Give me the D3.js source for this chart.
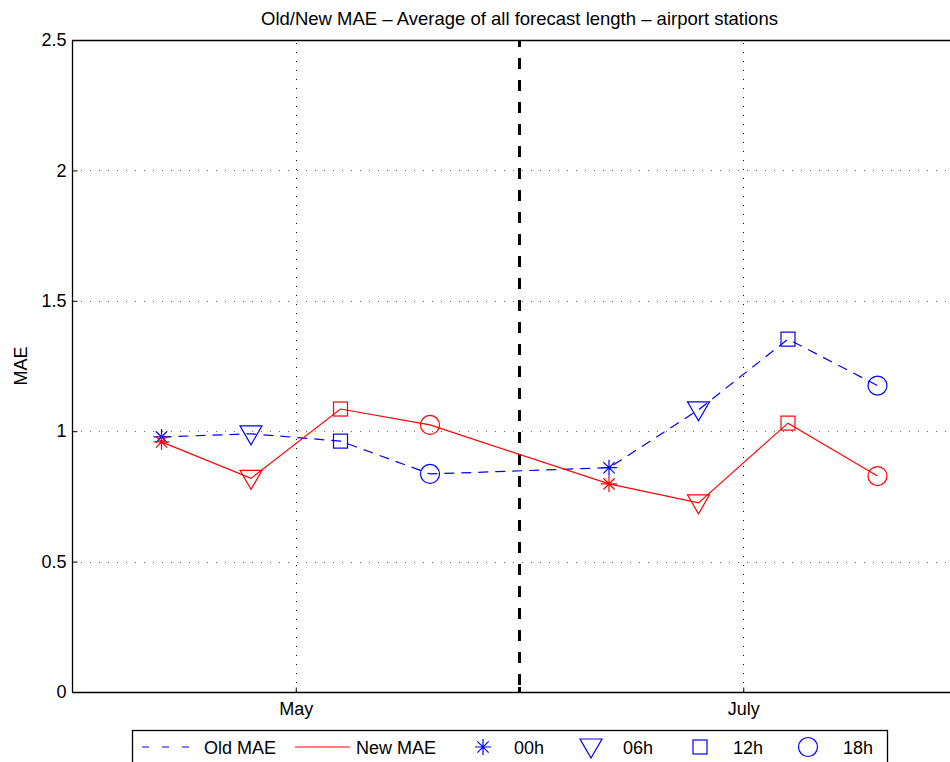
<!DOCTYPE html>
<html>
<head>
<meta charset="utf-8">
<script src="https://cdn.jsdelivr.net/npm/d3@7"></script>
<style>
html,body{margin:0;padding:0;background:#fff;overflow:hidden;}
svg{display:block;font-family:"Liberation Sans",Arial,Helvetica,sans-serif;}
</style>
</head>
<body>
<svg id="chart" width="950" height="762"></svg>
<script>
const xPositions = [1, 2, 3, 4, 6, 7, 8, 9];
const hours = ["00h", "06h", "12h", "18h", "00h", "06h", "12h", "18h"];
const oldMAE = [0.978, 0.99, 0.962, 0.836, 0.86, 1.082, 1.353, 1.175];
const newMAE = [0.959, 0.819, 1.085, 1.024, 0.798, 0.725, 1.031, 0.828];
const monthTicks = [2.5, 7.5];
const monthLabels = ["May", "July"];
const yTicks = [0, 0.5, 1, 1.5, 2, 2.5];
const dividerX = 5;
const legendLabels = ["Old MAE", "New MAE", "00h", "06h", "12h", "18h"];
const titleText = "Old/New MAE \u2013 Average of all forecast length \u2013 airport stations";

const svg = d3.select("#chart");
const L = 72, T = 40, B = 692, R = 967;
const FS = 18;
const x = d3.scaleLinear().domain([0, 10]).range([L, R]);
const y = d3.scaleLinear().domain([0, 2.5]).range([B, T]);

// grid
const g = svg.append("g");
g.selectAll(".hg").data(yTicks.filter(v => v > 0 && v < 2.5)).join("line")
  .attr("x1", L).attr("x2", R).attr("y1", d => Math.round(y(d)) + 0.5).attr("y2", d => Math.round(y(d)) + 0.5)
  .attr("stroke", "#000").attr("stroke-width", 1).attr("stroke-dasharray", "1,8").attr("opacity", 0.6);
g.selectAll(".vg").data(monthTicks).join("line")
  .attr("x1", d => Math.round(x(d)) + 0.5).attr("x2", d => Math.round(x(d)) + 0.5).attr("y1", B).attr("y2", T)
  .attr("stroke", "#000").attr("stroke-width", 1).attr("stroke-dasharray", "1,8");

// divider
svg.append("line").attr("x1", x(dividerX)).attr("x2", x(dividerX)).attr("y1", T).attr("y2", B)
  .attr("stroke", "#000").attr("stroke-width", 3).attr("stroke-dasharray", "11,11").attr("stroke-dashoffset", 4);

// axes
const yAxis = d3.axisLeft(y).tickValues(yTicks).tickFormat(d => d3.format("")(d)).tickSize(-5).tickPadding(6);
const ya = svg.append("g").attr("transform", `translate(${L + 0.5},0)`).call(yAxis);
const xAxis = d3.axisBottom(x).tickValues(monthTicks).tickFormat((d, i) => monthLabels[i]).tickSize(-5).tickPadding(10);
const xa = svg.append("g").attr("transform", `translate(0,${B + 0.5})`).call(xAxis);
[ya, xa].forEach(a => {
  a.select(".domain").attr("stroke", "#000").attr("stroke-width", 1.3);
  a.selectAll(".tick line").attr("stroke", "#000");
  a.selectAll(".tick text").attr("font-size", FS).attr("fill", "#000").attr("font-family", "Liberation Sans, Arial, sans-serif");
});
ya.select(".domain").attr("d", `M0,${B + 0.5}V${T}`);
xa.select(".domain").attr("d", `M${L},0H${R}`);
svg.append("line").attr("x1", L).attr("x2", R).attr("y1", T + 0.5).attr("y2", T + 0.5).attr("stroke", "#000").attr("stroke-width", 1.3);
svg.append("line").attr("x1", x(dividerX)).attr("x2", x(dividerX)).attr("y1", B).attr("y2", B - 5).attr("stroke", "#000").attr("stroke-width", 3);

// title & labels
svg.append("text").attr("x", (L + R) / 2).attr("y", 25).attr("text-anchor", "middle")
  .attr("font-size", 18.5).text(titleText);
svg.append("text").attr("transform", `translate(27,${(T + B) / 2}) rotate(-90)`).attr("text-anchor", "middle")
  .attr("font-size", FS).text("MAE");

// markers
const markerFns = {
  "00h": (sel) => { const r = 8; const p = [];
    for (let k = 0; k < 4; k++) { const a = k * Math.PI / 4; p.push(`M${-r*Math.cos(a)},${-r*Math.sin(a)}L${r*Math.cos(a)},${r*Math.sin(a)}`); }
    sel.append("path").attr("d", p.join("")); },
  "06h": (sel) => sel.append("path").attr("d", "M-11,-8L11,-8L0,11Z"),
  "12h": (sel) => sel.append("rect").attr("x", -7).attr("y", -7).attr("width", 14).attr("height", 14),
  "18h": (sel) => sel.append("circle").attr("r", 9.5)
};

function drawSeries(vals, color, dash) {
  const line = d3.line().x((d, i) => x(xPositions[i])).y(d => y(d));
  svg.append("path").datum(vals).attr("d", line).attr("fill", "none").attr("stroke", color)
    .attr("stroke-width", 1.2).attr("stroke-dasharray", dash);
  vals.forEach((v, i) => {
    const mg = svg.append("g").attr("transform", `translate(${x(xPositions[i])},${y(v)})`)
      .attr("fill", "none").attr("stroke", color).attr("stroke-width", 1.2);
    markerFns[hours[i]](mg);
  });
}
drawSeries(oldMAE, "#0000ff", "10,7");
drawSeries(newMAE, "#ff0000", null);

// legend
const lg = svg.append("g");
lg.append("rect").attr("x", 132.5).attr("y", 730.5).attr("width", 755).attr("height", 45)
  .attr("fill", "#fff").attr("stroke", "#000").attr("stroke-width", 1.3);
const ly = 747;
lg.append("line").attr("x1", 142).attr("x2", 198).attr("y1", ly).attr("y2", ly).attr("stroke", "#0000ff").attr("stroke-width", 1.2).attr("stroke-dasharray", "7,13");
lg.append("line").attr("x1", 295).attr("x2", 350).attr("y1", ly).attr("y2", ly).attr("stroke", "#ff0000").attr("stroke-width", 1.2);
const legMarkX = [483, 591, 700, 808];
const legTextX = [204, 356, 514, 623, 733, 843];
["00h", "06h", "12h", "18h"].forEach((h, i) => {
  const mg = lg.append("g").attr("transform", `translate(${legMarkX[i]},${ly})`).attr("fill", "none").attr("stroke", "#0000ff").attr("stroke-width", 1.2);
  markerFns[h](mg);
});
legendLabels.forEach((t, i) => {
  lg.append("text").attr("x", legTextX[i]).attr("y", ly + 7).attr("font-size", FS).text(t);
});
</script>
</body>
</html>
